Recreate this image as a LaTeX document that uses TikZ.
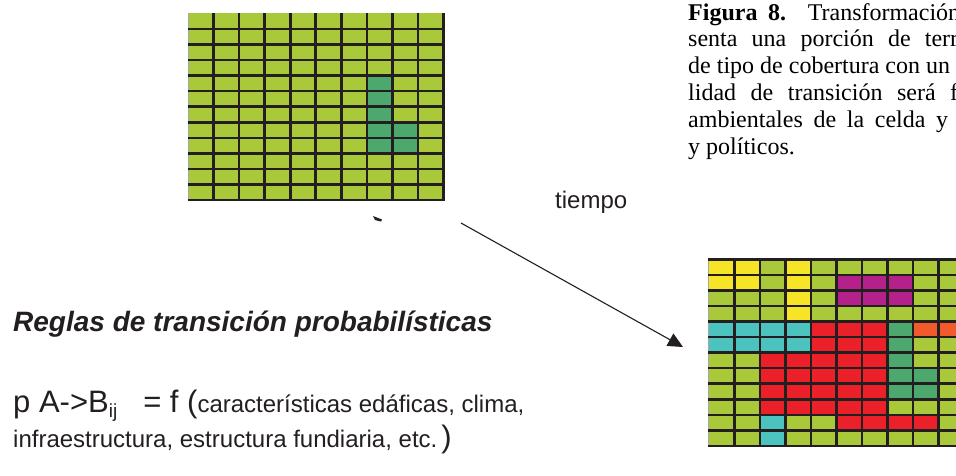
\documentclass[tikz,border=0pt]{standalone}
\usepackage{fontspec}
\setmainfont{Liberation Serif}
\newfontfamily\arialfont{Liberation Sans}
\usetikzlibrary{arrows.meta}

\definecolor{colG}{HTML}{A9C93B}
\definecolor{colD}{HTML}{4DA86E}
\definecolor{colY}{HTML}{F6E526}
\definecolor{colM}{HTML}{B5218A}
\definecolor{colC}{HTML}{4DC3C0}
\definecolor{colR}{HTML}{EC2029}
\definecolor{colO}{HTML}{F15A2A}
\definecolor{gridblack}{HTML}{231F20}

\def\cellw{25.55}
\def\cellh{15.55}

% grid of land cells: x, y, first row line, rows
\newcommand{\landgrid}[4]{%
  \foreach \cells [count=\r from 0] in {#4} {
    \foreach \c [count=\k from 0] in \cells
      \fill[col\c] ({#1+\k*\cellw},{#2+\r*\cellh}) rectangle ++(\cellw,\cellh);
  }
  \draw[edgeline] (#1,#2) -- ++(0,{12*\cellh});
  \foreach \k in {1,...,10}
    \draw[gridline] ({#1+\k*\cellw},#2) -- ++(0,{12*\cellh});
  \foreach \r in {#3,...,12}
    \draw[gridline] ({#1-0.3},{#2+\r*\cellh}) -- ++({10*\cellw+1.3},0);
}

\tikzset{
  gridline/.style={draw=gridblack, line width=2.6pt},
  edgeline/.style={draw=black!35, line width=0.8pt},
  caption/.style={anchor=base west, inner sep=0pt, font=\fontsize{24}{27}\selectfont},
  sanslabel/.style={anchor=base west, inner sep=0pt, text=gridblack},
  timearrow/.style={draw=gridblack, line width=1.1pt, -{Triangle[length=15pt,width=14pt]}},
}

\begin{document}
\begin{tikzpicture}[x=1pt,y=-1pt]
  \useasboundingbox (0,0) rectangle (956,475);
  \clip (0,0) rectangle (956,475);
  \fill[white] (0,0) rectangle (956,475);

  % before
  \landgrid{188}{13.4}{1}{
    {G,G,G,G,G,G,G,G,G,G},{G,G,G,G,G,G,G,G,G,G},
    {G,G,G,G,G,G,G,G,G,G},{G,G,G,G,G,G,G,G,G,G},
    {G,G,G,G,G,G,G,D,G,G},{G,G,G,G,G,G,G,D,G,G},
    {G,G,G,G,G,G,G,D,G,G},{G,G,G,G,G,G,G,D,D,G},
    {G,G,G,G,G,G,G,D,D,G},{G,G,G,G,G,G,G,G,G,G},
    {G,G,G,G,G,G,G,G,G,G},{G,G,G,G,G,G,G,G,G,G}}

  % after
  \landgrid{708.7}{259.3}{0}{
    {Y,Y,G,Y,G,G,G,G,G,G},{Y,Y,G,Y,G,M,M,M,G,G},
    {G,G,G,Y,G,M,M,M,G,G},{G,G,G,Y,G,G,G,G,G,G},
    {C,C,C,C,R,R,R,D,O,O},{C,C,C,C,R,R,R,D,G,G},
    {G,G,R,R,R,R,R,D,G,G},{G,G,R,R,R,R,R,D,D,G},
    {G,G,R,R,R,R,R,D,D,G},{G,G,R,R,R,R,R,G,G,G},
    {G,G,C,G,G,R,R,R,R,G},{G,G,C,G,G,G,G,G,G,G}}

  \fill[gridblack] (373,216) -- (382,219.5) -- (381,221.5) -- (375,220) -- cycle;

  \coordinate (tstart) at (461,223);
  \coordinate (tend) at (683,347);
  \draw[timearrow] (tstart) -- (tend);
  \node[sanslabel, font=\arialfont\fontsize{24}{24}\selectfont] (tiempo) at (555,208) {tiempo};

  \node[caption] (cap1) at (688,20) {\makebox[272pt][s]{\textbf{Figura 8.} Transformación}};
  \node[caption] (cap2) at (688,46.8) {\makebox[270pt][s]{senta una porción de terr}};
  \node[caption] (cap3) at (688,73.6) {de tipo de cobertura con un};
  \node[caption] (cap4) at (688,100.4) {\makebox[270pt][s]{lidad de transición será f}};
  \node[caption] (cap5) at (688,127.2) {\makebox[260pt][s]{ambientales de la celda y}};
  \node[caption] (cap6) at (688,154) {y políticos.};

  \node[sanslabel, font=\arialfont\bfseries\itshape\fontsize{28}{28}\selectfont] (rules) at (13,331)
    {Reglas de transición probabilísticas};
  \node[sanslabel, font=\arialfont\fontsize{31}{31}\selectfont] (prob) at (13,412)
    {p A->B\raisebox{-5pt}{\fontsize{19}{19}\selectfont ij}\hspace{26pt}= f (\fontsize{24}{24}\selectfont características edáficas, clima,};
  \node[sanslabel, font=\arialfont\fontsize{24}{24}\selectfont] (infra) at (13,447)
    {infraestructura, estructura fundiaria, etc.\hspace{4pt}{\fontsize{31}{31}\selectfont )}};
\end{tikzpicture}
\end{document}
